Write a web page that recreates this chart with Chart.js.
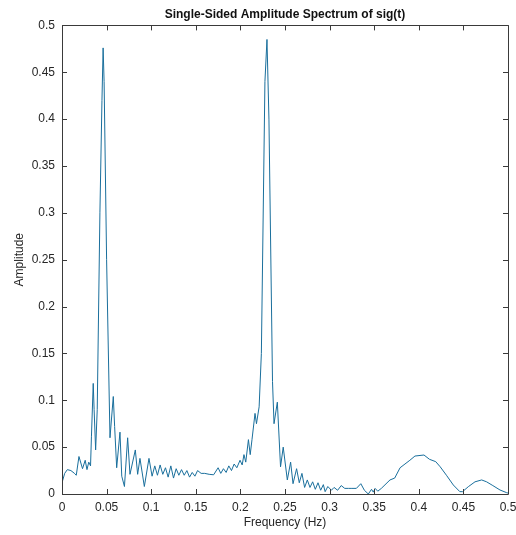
<!DOCTYPE html>
<html>
<head>
<meta charset="utf-8">
<script src="https://cdn.jsdelivr.net/npm/chart.js@4"></script>
<style>
    html, body { margin: 0; padding: 0; background: #fff; }
    canvas { display: block; }
</style>
</head>
<body>
<canvas id="spectrum" width="516" height="535"></canvas>
<script>
// frequency axis (Hz) of the traced spectrum
const freq = [
    0.000, 0.003, 0.006, 0.010, 0.014, 0.016, 0.019, 0.023, 0.026, 0.028,
    0.030, 0.032, 0.033, 0.035, 0.036, 0.0377, 0.0395, 0.0425, 0.0448, 0.0461,
    0.0472, 0.0500, 0.0538, 0.0575, 0.0590, 0.0613, 0.0650, 0.0670, 0.0700, 0.0736,
    0.0762, 0.0822, 0.0848, 0.0874, 0.0923, 0.0975, 0.1010, 0.104, 0.107, 0.110,
    0.113, 0.116, 0.119, 0.122, 0.125, 0.128, 0.131, 0.134, 0.137, 0.140,
    0.143, 0.146, 0.149, 0.152, 0.156, 0.160, 0.165, 0.170, 0.175, 0.178,
    0.181, 0.184, 0.187, 0.190, 0.193, 0.196, 0.1996, 0.202, 0.204, 0.206,
    0.209, 0.211, 0.213, 0.2164, 0.218, 0.221, 0.2235, 0.2275, 0.2298, 0.2320,
    0.2360, 0.2377, 0.2414, 0.245, 0.248, 0.2526, 0.2563, 0.259, 0.263, 0.266,
    0.269, 0.272, 0.275, 0.278, 0.281, 0.284, 0.287, 0.290, 0.293, 0.295,
    0.298, 0.302, 0.305, 0.309, 0.313, 0.317, 0.321, 0.325, 0.330, 0.335,
    0.339, 0.3434, 0.347, 0.349, 0.351, 0.354, 0.358, 0.3677, 0.373, 0.379,
    0.3845, 0.390, 0.3957, 0.4058, 0.412, 0.419, 0.424, 0.431, 0.4387, 0.446,
    0.449, 0.4555, 0.463, 0.4705, 0.476, 0.483, 0.491, 0.4985, 0.500
];

// single-sided amplitude at each frequency
const amp = [
    0.012, 0.022, 0.026, 0.025, 0.022, 0.020, 0.040, 0.027, 0.036, 0.026,
    0.034, 0.030, 0.061, 0.118, 0.090, 0.047, 0.090, 0.300, 0.420, 0.476,
    0.440, 0.250, 0.060, 0.104, 0.072, 0.028, 0.066, 0.019, 0.008, 0.060,
    0.021, 0.047, 0.021, 0.038, 0.008, 0.038, 0.019, 0.030, 0.020, 0.031,
    0.021, 0.028, 0.018, 0.030, 0.017, 0.027, 0.020, 0.026, 0.020, 0.025,
    0.018, 0.023, 0.019, 0.025, 0.022, 0.022, 0.021, 0.0205, 0.028, 0.022,
    0.027, 0.023, 0.030, 0.025, 0.032, 0.028, 0.036, 0.031, 0.042, 0.034,
    0.058, 0.042, 0.058, 0.086, 0.075, 0.093, 0.150, 0.440, 0.485, 0.400,
    0.120, 0.075, 0.098, 0.029, 0.050, 0.015, 0.034, 0.011, 0.027, 0.012,
    0.022, 0.007, 0.015, 0.007, 0.013, 0.005, 0.012, 0.004, 0.010, 0.0025,
    0.008, 0.004, 0.007, 0.004, 0.009, 0.006, 0.006, 0.006, 0.006, 0.011,
    0.004, 0.000, 0.005, 0.002, 0.006, 0.003, 0.006, 0.015, 0.017, 0.028,
    0.032, 0.036, 0.0405, 0.0416, 0.037, 0.0345, 0.029, 0.020, 0.0096, 0.0025,
    0.0025, 0.0078, 0.013, 0.015, 0.013, 0.009, 0.0043, 0.0014, 0.001
];

const xLimits = [0, 0.5];
const yLimits = [0, 0.5];
const tickStep = 0.05;

const TEXT_COLOR = '#262626';
const AXIS_COLOR = '#3a3a3a';
const LINE_COLOR = '#1a6f9c';

// box around the axes with inward ticks on all four sides (matlab look)
const boxAxesPlugin = {
    id: 'boxAxes',
    afterDraw(chart) {
        const ctx = chart.ctx;
        const area = chart.chartArea;
        const xs = chart.scales.x;
        const ys = chart.scales.y;
        const len = 5;
        ctx.save();
        ctx.strokeStyle = AXIS_COLOR;
        ctx.lineWidth = 1;
        ctx.beginPath();
        ctx.rect(Math.round(area.left) + 0.5, Math.round(area.top) + 0.5,
            Math.round(area.right - area.left), Math.round(area.bottom - area.top));
        xs.ticks.forEach(t => {
            const px = Math.round(xs.getPixelForValue(t.value)) + 0.5;
            ctx.moveTo(px, area.bottom);
            ctx.lineTo(px, area.bottom - len);
            ctx.moveTo(px, area.top);
            ctx.lineTo(px, area.top + len);
        });
        ys.ticks.forEach(t => {
            const py = Math.round(ys.getPixelForValue(t.value)) + 0.5;
            ctx.moveTo(area.left, py);
            ctx.lineTo(area.left + len, py);
            ctx.moveTo(area.right, py);
            ctx.lineTo(area.right - len, py);
        });
        ctx.stroke();
        ctx.restore();
    }
};

function fmtTick(v) {
    return String(Number(v.toFixed(2)));
}

const points = freq.map((f, i) => ({ x: f, y: amp[i] }));

new Chart(document.getElementById('spectrum'), {
    type: 'line',
    data: {
        datasets: [{
            data: points,
            borderColor: LINE_COLOR,
            borderWidth: 1,
            pointRadius: 0,
            tension: 0,
            fill: false
        }]
    },
    options: {
        responsive: false,
        animation: false,
        devicePixelRatio: 1,
        layout: { padding: { left: 0, right: 0, top: 0, bottom: 0 } },
        plugins: {
            legend: { display: false },
            tooltip: { enabled: false },
            title: {
                display: true,
                text: 'Single-Sided Amplitude Spectrum of sig(t)',
                fullSize: false,
                color: '#111',
                font: { family: 'Liberation Sans, Arial, sans-serif', size: 12, weight: 'bold' },
                padding: { top: 7, bottom: 4 }
            }
        },
        scales: {
            x: {
                type: 'linear',
                min: xLimits[0],
                max: xLimits[1],
                grid: { display: false, drawTicks: false },
                border: { display: false },
                ticks: {
                    stepSize: tickStep,
                    padding: 6,
                    color: TEXT_COLOR,
                    maxRotation: 0,
                    autoSkip: false,
                    font: { family: 'Liberation Sans, Arial, sans-serif', size: 12 },
                    callback: v => fmtTick(v)
                },
                title: {
                    display: true,
                    text: 'Frequency (Hz)',
                    color: TEXT_COLOR,
                    font: { family: 'Liberation Sans, Arial, sans-serif', size: 12 },
                    padding: { top: 0, bottom: 5 }
                },
                afterFit: s => {
                    s.height = 41;
                    s.paddingLeft = 0;
                    s.paddingRight = 8;
                }
            },
            y: {
                min: yLimits[0],
                max: yLimits[1],
                grid: { display: false, drawTicks: false },
                border: { display: false },
                ticks: {
                    stepSize: tickStep,
                    padding: 7,
                    color: TEXT_COLOR,
                    autoSkip: false,
                    font: { family: 'Liberation Sans, Arial, sans-serif', size: 12 },
                    callback: v => fmtTick(v)
                },
                title: {
                    display: true,
                    text: 'Amplitude',
                    color: TEXT_COLOR,
                    font: { family: 'Liberation Sans, Arial, sans-serif', size: 12 },
                    padding: { top: 12, bottom: 0 }
                },
                afterFit: s => { s.width = 62; }
            }
        }
    },
    plugins: [boxAxesPlugin]
});
</script>
</body>
</html>
